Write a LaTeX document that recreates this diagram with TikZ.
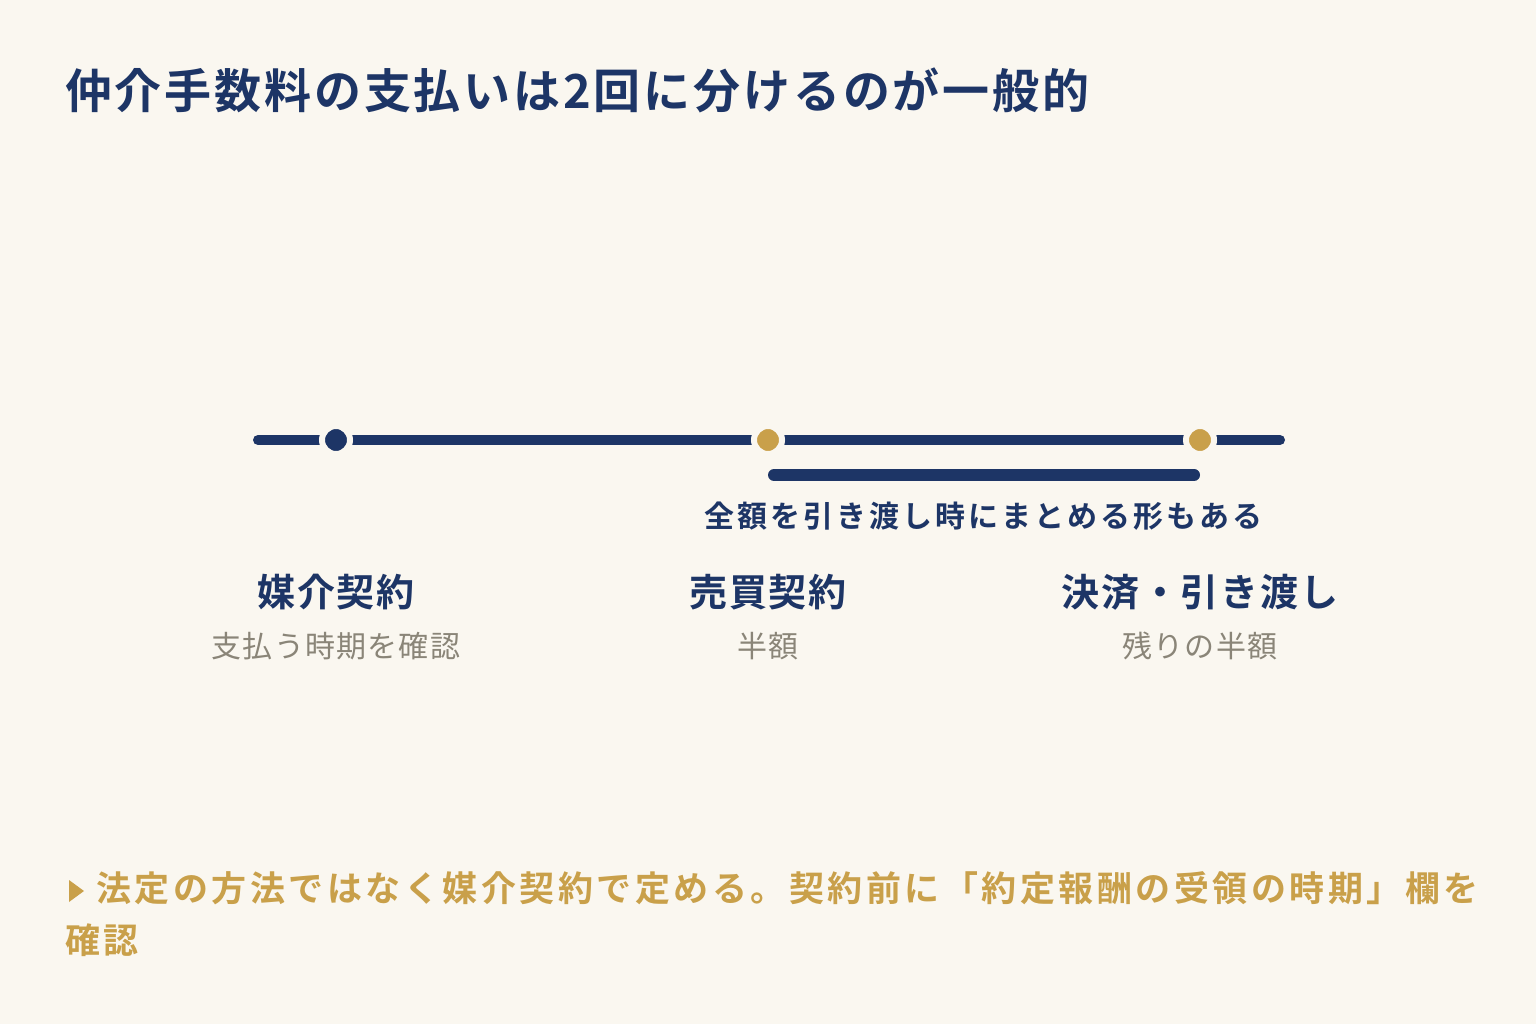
\documentclass[tikz,border=0pt]{standalone}
\usepackage{fontspec}
\setmainfont{Noto Sans CJK JP}[BoldFont={Noto Sans CJK JP Bold}]
\definecolor{bg}{HTML}{FAF7F0}
\definecolor{navy}{HTML}{1D3566}
\definecolor{gold}{HTML}{C9A04A}
\definecolor{gray}{HTML}{8A8578}
\newcommand{\ls}[1]{\addfontfeatures{LetterSpace=#1}}
\begin{document}
\begin{tikzpicture}[x=1pt,y=-1pt,
  dot/.style={circle,inner sep=0pt,minimum size=28pt,draw=bg,line width=6pt},
  stage/.style={font=\bfseries\fontsize{38}{40}\selectfont\ls{5},text=navy},
  sub/.style={font=\fontsize{30}{32}\selectfont\ls{4},text=gray},
  every node/.style={inner sep=0pt}]
\fill[bg] (0,0) rectangle (1536,1024);
\node[anchor=west,font=\bfseries\fontsize{47}{50}\selectfont\ls{6},text=navy] (title) at (65,90) {仲介手数料の支払いは2回に分けるのが一般的};
\coordinate (ls) at (258,440); \coordinate (le) at (1280,440);
\draw[navy,line width=10pt,line cap=round] (ls) -- (le);
\node[dot,fill=navy] (d1) at (336,440) {};
\node[dot,fill=gold] (d2) at (768,440) {};
\node[dot,fill=gold] (d3) at (1200,440) {};
\coordinate (bs) at (774,475); \coordinate (be) at (1194,475);
\draw[navy,line width=12pt,line cap=round] (bs) -- (be);
\node[font=\bfseries\fontsize{30}{32}\selectfont\ls{10},text=navy] (all) at (983,516) {全額を引き渡し時にまとめる形もある};
\node[stage] (s1) at (336,592) {媒介契約};
\node[sub] (t1) at (336,646) {支払う時期を確認};
\node[stage] (s2) at (768,592) {売買契約};
\node[sub] (t2) at (768,646) {半額};
\node[stage] (s3) at (1200,592) {決済・引き渡し};
\node[sub] (t3) at (1200,646) {残りの半額};
\fill[gold] (69,880) -- (84,891) -- (69,902) -- cycle;
\node[anchor=west,font=\bfseries\fontsize{35}{36}\selectfont\ls{10},text=gold] (n1) at (96,888) {法定の方法ではなく媒介契約で定める。契約前に「約定報酬の受領の時期」欄を};
\node[anchor=west,font=\bfseries\fontsize{35}{36}\selectfont\ls{10},text=gold] (n2) at (65,940) {確認};
\end{tikzpicture}
\end{document}
